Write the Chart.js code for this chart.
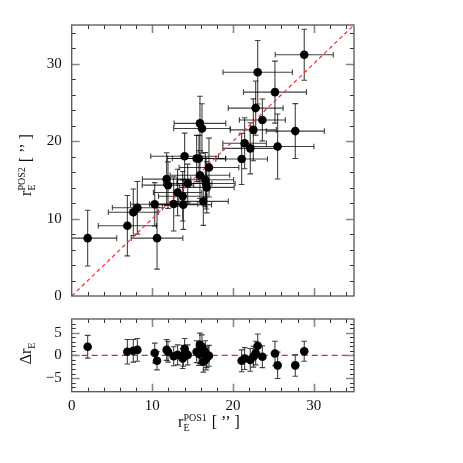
<!DOCTYPE html>
<html><head><meta charset="utf-8">
<script src="https://cdn.jsdelivr.net/npm/chart.js@4"></script>
<style>
html,body{margin:0;padding:0;background:#fff}
#wrap{position:relative;width:463px;height:463px;overflow:hidden;background:#fff}
canvas{position:absolute;left:0}
</style>
</head><body>
<div id="wrap">
<canvas id="cTop" width="463" height="315" style="top:0px"></canvas>
<canvas id="cBot" width="463" height="163" style="top:300px"></canvas>
</div>
<script>
// ---- data ----
const pos1 = [1.98, 6.90, 7.64, 8.14, 10.29, 10.58, 11.77, 11.94, 12.64, 13.13, 13.76, 13.84, 14.00, 14.38, 15.49, 15.78, 15.90, 16.15, 15.90, 16.32, 16.57, 16.66, 16.74, 17.02, 21.07, 21.44, 22.14, 22.52, 22.81, 23.06, 23.64, 25.20, 25.53, 27.72, 28.83];
const pos1Err = [3.6, 3.6, 3.1, 3.1, 3.0, 3.2, 3.0, 3.2, 3.0, 3.0, 3.0, 3.5, 4.2, 3.0, 3.6, 3.3, 3.2, 3.5, 3.7, 3.1, 3.5, 3.6, 3.4, 3.7, 3.2, 2.7, 3.4, 2.85, 3.4, 4.3, 2.85, 3.9, 4.5, 3.6, 3.6];
const pos2 = [7.47, 9.08, 10.81, 11.39, 11.84, 7.47, 15.10, 14.32, 11.89, 13.37, 12.88, 11.80, 18.04, 14.53, 17.75, 17.75, 22.29, 21.63, 15.60, 12.22, 15.02, 14.53, 14.03, 16.59, 17.70, 19.73, 19.07, 21.46, 24.27, 28.89, 22.74, 26.33, 19.31, 21.30, 31.16];
const pos2Err = [3.6, 3.9, 3.0, 3.4, 2.8, 4.0, 3.4, 3.0, 3.5, 3.0, 3.2, 3.2, 3.0, 2.5, 3.0, 3.0, 3.5, 3.2, 3.0, 3.1, 3.5, 3.3, 3.3, 3.8, 3.3, 3.3, 3.3, 4.0, 3.5, 4.1, 2.7, 4.0, 4.2, 3.55, 3.3];
const deltaR = [1.9, 0.8, 1.0, 1.2, 0.5, -1.2, 1.2, 0.8, -0.2, 0.1, -0.7, -0.1, 1.4, 0.1, 0.8, 0.3, 2.3, 1.9, 0.6, -1.4, 0.7, -0.8, -0.4, -0.1, -1.2, -0.7, -1.0, -0.3, 0.5, 2.1, -0.3, 0.4, -2.2, -2.2, 0.9];
const deltaErr = [2.5, 2.7, 2.5, 2.5, 2.2, 2.0, 2.3, 2.3, 2.1, 2.2, 2.2, 2.3, 2.3, 2.2, 2.4, 2.5, 2.6, 2.6, 2.4, 2.3, 2.5, 2.4, 2.3, 2.3, 2.4, 2.4, 2.5, 2.3, 2.6, 2.6, 2.4, 2.7, 2.9, 2.4, 2.2];
const xTicks = [0, 10, 20, 30];
const yTicks = [0, 10, 20, 30];
const dTicks = [-5, 0, 5];
const oneToOne = [0, 35];
const zeroLine = [0, 35];

const FONT = '"Liberation Serif", "DejaVu Serif", serif';

function drawFrameTicks(chart, xMinor, xMajor, yMinor, yMajor) {
  const ctx = chart.ctx, a = chart.chartArea, sx = chart.scales.x, sy = chart.scales.y;
  ctx.save();
  const isMajor = (v, m) => Math.abs(v / m - Math.round(v / m)) < 1e-6;
  for (let i = Math.ceil(sx.min / xMinor); i * xMinor < sx.max - 1e-9; i++) {
    const v = i * xMinor; if (v <= sx.min + 1e-9) continue;
    const px = Math.round(sx.getPixelForValue(v)) + 0.5;
    const mj = isMajor(v, xMajor), L = mj ? 8 : 4;
    ctx.strokeStyle = mj ? '#888' : '#333'; ctx.lineWidth = mj ? 1.6 : 1;
    ctx.beginPath();
    ctx.moveTo(px, a.bottom); ctx.lineTo(px, a.bottom - L);
    ctx.moveTo(px, a.top); ctx.lineTo(px, a.top + L);
    ctx.stroke();
  }
  for (let i = Math.ceil(sy.min / yMinor); i * yMinor < sy.max - 1e-9; i++) {
    const v = i * yMinor; if (v <= sy.min + 1e-9) continue;
    const py = Math.round(sy.getPixelForValue(v)) + 0.5;
    const mj = isMajor(v, yMajor), L = mj ? 8 : 4;
    ctx.strokeStyle = mj ? '#888' : '#333'; ctx.lineWidth = mj ? 1.6 : 1;
    ctx.beginPath();
    ctx.moveTo(a.left, py); ctx.lineTo(a.left + L, py);
    ctx.moveTo(a.right, py); ctx.lineTo(a.right - L, py);
    ctx.stroke();
  }
  ctx.strokeStyle = '#555'; ctx.lineWidth = 1.3;
  ctx.strokeRect(a.left, a.top, a.right - a.left, a.bottom - a.top);
  ctx.restore();
}

function drawErrBars(chart, xs, xe, ys, ye) {
  const ctx = chart.ctx, a = chart.chartArea, sx = chart.scales.x, sy = chart.scales.y;
  ctx.save();
  ctx.beginPath(); ctx.rect(a.left, a.top, a.right - a.left, a.bottom - a.top); ctx.clip();
  ctx.strokeStyle = 'rgba(0,0,0,0.75)'; ctx.lineWidth = 1.1;
  const cap = 2.8;
  for (let i = 0; i < xs.length; i++) {
    const px = sx.getPixelForValue(xs[i]), py = sy.getPixelForValue(ys[i]);
    ctx.beginPath();
    if (xe) {
      const x1 = sx.getPixelForValue(xs[i] - xe[i]), x2 = sx.getPixelForValue(xs[i] + xe[i]);
      ctx.moveTo(x1, py); ctx.lineTo(x2, py);
      ctx.moveTo(x1, py - cap); ctx.lineTo(x1, py + cap);
      ctx.moveTo(x2, py - cap); ctx.lineTo(x2, py + cap);
    }
    const y1 = sy.getPixelForValue(ys[i] - ye[i]), y2 = sy.getPixelForValue(ys[i] + ye[i]);
    ctx.moveTo(px, y1); ctx.lineTo(px, y2);
    ctx.moveTo(px - cap, y1); ctx.lineTo(px + cap, y1);
    ctx.moveTo(px - cap, y2); ctx.lineTo(px + cap, y2);
    ctx.stroke();
  }
  ctx.restore();
}

function drawSym(ctx, cx, cy, rot, pre, sub, sup, post) {
  ctx.save(); ctx.translate(cx, cy); ctx.rotate(rot);
  ctx.fillStyle = '#111'; ctx.textBaseline = 'alphabetic'; ctx.textAlign = 'left';
  const big = '16px ' + FONT, small = '10px ' + FONT;
  ctx.font = big; const wPre = ctx.measureText(pre).width; const wPost = post ? ctx.measureText(post).width : 0;
  ctx.font = small; const wSub = ctx.measureText(sub).width; const wSup = sup ? ctx.measureText(sup).width : 0;
  const wMid = Math.max(wSub, wSup) + 1;
  let x = -(wPre + wMid + wPost) / 2;
  ctx.font = big; ctx.fillText(pre, x, 0); x += wPre;
  ctx.font = small; ctx.fillText(sub, x, 3.5); if (sup) ctx.fillText(sup, x, -6.5); x += wMid;
  if (post) { ctx.font = big; ctx.fillText(post, x, 0); }
  ctx.restore();
}

const tickFont = { family: FONT, size: 15 };
const QUOTE = ' [ \u2019\u2019 ]';

// ---- top panel ----
new Chart(document.getElementById('cTop'), {
  type: 'scatter',
  data: {
    datasets: [
      { data: pos1.map((x, i) => ({ x: x, y: pos2[i] })), backgroundColor: '#000', borderWidth: 0, pointRadius: 4.3, pointHoverRadius: 4.3, order: 0 },
      { data: oneToOne.map(v => ({ x: v, y: v })), showLine: true, borderColor: '#ff2a2a', borderWidth: 1.2, borderDash: [4, 3], pointRadius: 0, order: 1 }
    ]
  },
  options: {
    responsive: false, animation: false, devicePixelRatio: 1,
    layout: { padding: { left: 0, right: 109, top: 25, bottom: 7.7 } },
    plugins: { legend: { display: false }, tooltip: { enabled: false } },
    scales: {
      x: { type: 'linear', min: 0, max: 35, display: false },
      y: {
        type: 'linear', min: 0, max: 35,
        grid: { display: false, drawTicks: false }, border: { display: false },
        afterBuildTicks: s => { s.ticks = yTicks.map(v => ({ value: v })); },
        afterFit: s => { s.width = 71.7; },
        ticks: { font: tickFont, color: '#111', padding: 10 }
      }
    }
  },
  plugins: [{
    id: 'deco',
    beforeDatasetsDraw(chart) { drawErrBars(chart, pos1, pos1Err, pos2, pos2Err); },
    afterDraw(chart) {
      drawFrameTicks(chart, 2, 10, 2, 10);
      drawSym(chart.ctx, 31, 165, -Math.PI / 2, 'r', 'E', 'POS2', QUOTE);
    }
  }]
});

// ---- bottom panel ----
new Chart(document.getElementById('cBot'), {
  type: 'scatter',
  data: {
    datasets: [
      { data: pos1.map((x, i) => ({ x: x, y: deltaR[i] })), backgroundColor: '#000', borderWidth: 0, pointRadius: 4.3, pointHoverRadius: 4.3, order: 0 },
      { data: zeroLine.map(v => ({ x: v, y: 0 })), showLine: true, borderColor: '#e02828', borderWidth: 1.1, borderDash: [6, 4], pointRadius: 0, order: 1 }
    ]
  },
  options: {
    responsive: false, animation: false, devicePixelRatio: 1,
    layout: { padding: { left: 0, right: 109, top: 14.3, bottom: 0 } },
    plugins: { legend: { display: false }, tooltip: { enabled: false } },
    scales: {
      x: {
        type: 'linear', min: 0, max: 35,
        grid: { display: false, drawTicks: false }, border: { display: false },
        afterBuildTicks: s => { s.ticks = xTicks.map(v => ({ value: v })); },
        afterFit: s => { s.height = 71.3; },
        ticks: { font: tickFont, color: '#111', padding: 5, maxRotation: 0 }
      },
      y: {
        type: 'linear', min: -8, max: 8,
        grid: { display: false, drawTicks: false }, border: { display: false },
        afterBuildTicks: s => { s.ticks = dTicks.map(v => ({ value: v })); },
        afterFit: s => { s.width = 71.7; },
        ticks: { font: tickFont, color: '#111', padding: 10, callback: v => (v < 0 ? '\u2212' + Math.abs(v) : String(v)) }
      }
    }
  },
  plugins: [{
    id: 'deco2',
    beforeDatasetsDraw(chart) { drawErrBars(chart, pos1, null, deltaR, deltaErr); },
    afterDraw(chart) {
      drawFrameTicks(chart, 2, 10, 1, 5);
      drawSym(chart.ctx, 209, 127, 0, 'r', 'E', 'POS1', QUOTE);
      drawSym(chart.ctx, 31, 53, -Math.PI / 2, '\u0394r', 'E', '', '');
    }
  }]
});
</script>
</body></html>
